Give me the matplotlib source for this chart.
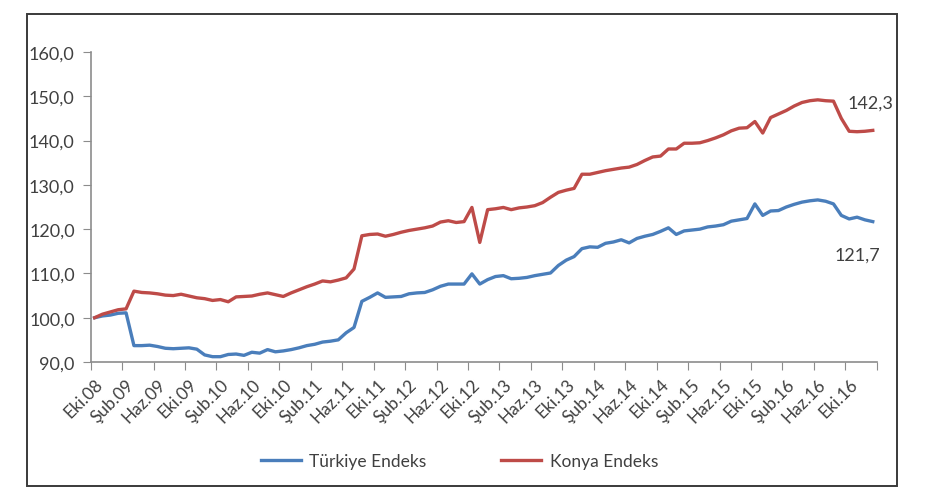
import matplotlib
matplotlib.use("Agg")
import matplotlib.pyplot as plt
from matplotlib.patches import Rectangle
import numpy as np

plt.rcParams['font.family'] = ['Lato', 'DejaVu Sans']

# monthly index values, Eki.08 .. Oca.17
turkiye = [100.0, 100.4, 100.6, 101.0, 101.1, 93.7, 93.7, 93.8, 93.5, 93.1,
           93.0, 93.1, 93.2, 92.9, 91.6, 91.2, 91.2, 91.7, 91.8, 91.5,
           92.2, 92.0, 92.8, 92.3, 92.5, 92.8, 93.2, 93.7, 94.0, 94.5,
           94.7, 95.0, 96.6, 97.8, 103.7, 104.6, 105.6, 104.6, 104.7, 104.8,
           105.4, 105.6, 105.7, 106.3, 107.1, 107.6, 107.6, 107.6, 109.9, 107.6,
           108.6, 109.3, 109.5, 108.8, 108.9, 109.1, 109.5, 109.8, 110.1, 111.8,
           113.0, 113.8, 115.6, 116.0, 115.9, 116.8, 117.1, 117.6, 116.9, 117.9,
           118.4, 118.8, 119.5, 120.3, 118.8, 119.6, 119.8, 120.0, 120.5, 120.7,
           121.0, 121.8, 122.1, 122.4, 125.7, 123.1, 124.1, 124.2, 125.0, 125.6,
           126.1, 126.4, 126.6, 126.3, 125.7, 123.1, 122.3, 122.7, 122.1, 121.7]

konya = [100.0, 100.8, 101.3, 101.8, 102.0, 106.0, 105.7, 105.6, 105.4, 105.1,
         105.0, 105.3, 104.9, 104.5, 104.3, 103.9, 104.1, 103.6, 104.7, 104.8,
         104.9, 105.3, 105.6, 105.2, 104.8, 105.6, 106.3, 107.0, 107.6, 108.3,
         108.1, 108.5, 109.0, 111.0, 118.5, 118.8, 118.9, 118.4, 118.8, 119.3,
         119.7, 120.0, 120.3, 120.7, 121.6, 121.9, 121.5, 121.7, 124.9, 117.0,
         124.4, 124.6, 124.9, 124.4, 124.8, 125.0, 125.3, 126.0, 127.2, 128.3,
         128.8, 129.2, 132.4, 132.4, 132.8, 133.2, 133.5, 133.8, 134.0, 134.6,
         135.5, 136.3, 136.5, 138.1, 138.1, 139.4, 139.4, 139.5, 140.0, 140.6,
         141.3, 142.2, 142.8, 142.9, 144.3, 141.7, 145.2, 146.0, 146.8, 147.8,
         148.6, 149.0, 149.2, 149.0, 148.9, 145.0, 142.1, 142.0, 142.1, 142.3]

labels = ['Eki.08', 'Şub.09', 'Haz.09', 'Eki.09', 'Şub.10', 'Haz.10', 'Eki.10',
          'Şub.11', 'Haz.11', 'Eki.11', 'Şub.12', 'Haz.12', 'Eki.12', 'Şub.13',
          'Haz.13', 'Eki.13', 'Şub.14', 'Haz.14', 'Eki.14', 'Şub.15', 'Haz.15',
          'Eki.15', 'Şub.16', 'Haz.16', 'Eki.16']

x = np.arange(len(konya))
txt = '#404040'
axc = '#8c8c8c'

fig = plt.figure(figsize=(9.38, 4.89), dpi=100)
ax = fig.add_axes([90.7 / 938, 1 - 363 / 489, (876.7 - 90.7) / 938, 310 / 489])

ax.plot(x, turkiye, color='#4a7ebb', lw=2.4, label='Türkiye Endeks', solid_joinstyle='round')
ax.plot(x, konya, color='#be4b48', lw=2.4, label='Konya Endeks', solid_joinstyle='round')

ax.set_xlim(-0.5, len(konya) - 0.5)
ax.set_ylim(90, 160)
ax.set_yticks(np.arange(90, 161, 10))
ax.set_yticklabels([f'{v:.1f}'.replace('.', ',') for v in np.arange(90, 161, 10)],
                   color=txt, fontsize=13)

# tick marks between categories, labels every 4 months
ax.set_xticks(np.arange(-0.5, len(konya), 4))
ax.set_xticklabels([])
ax.set_xticks(np.arange(0, len(konya), 4)[:len(labels)], minor=True)
ax.set_xticklabels(labels, minor=True, rotation=45, ha='right', va='top',
                   rotation_mode='anchor', color=txt, fontsize=12.5)
ax.tick_params(axis='x', which='minor', length=0, pad=10)
ax.tick_params(axis='x', which='major', length=5.5, color=axc, direction='out')
ax.tick_params(axis='y', length=5.5, color=axc, direction='out', pad=6)

for s in ['top', 'right']:
    ax.spines[s].set_visible(False)
for s in ['left', 'bottom']:
    ax.spines[s].set_color(axc)
    ax.spines[s].set_linewidth(1.2)

ax.annotate(f'{konya[-1]:.1f}'.replace('.', ','), (x[-1], konya[-1]),
            xytext=(-2, 20), textcoords='offset points', ha='center', va='center',
            fontsize=13, color=txt)
ax.annotate(f'{turkiye[-1]:.1f}'.replace('.', ','), (x[-1], turkiye[-1]),
            xytext=(-11, -24), textcoords='offset points', ha='center', va='center',
            fontsize=13, color=txt)

fig.legend(loc='center', bbox_to_anchor=(0.49, 1 - 462 / 489), ncol=2, frameon=False,
           fontsize=12.5, handlelength=2.3, handletextpad=0.5, columnspacing=4.3,
           labelcolor=txt)

fig.patches.append(Rectangle((27 / 938, 1 - 487 / 489), 870 / 938, 472 / 489,
                             transform=fig.transFigure, fill=False,
                             edgecolor='#3a3a3a', lw=1.4))

fig.savefig('out.png', dpi=100)
